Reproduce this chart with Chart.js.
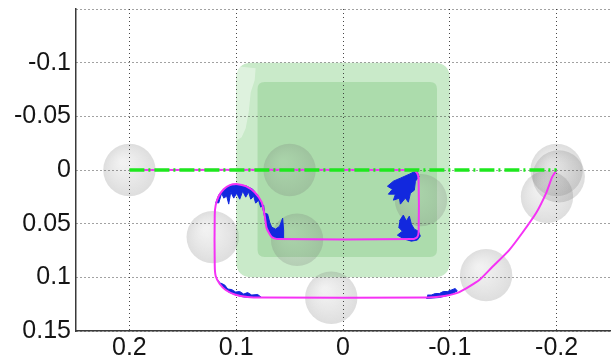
<!DOCTYPE html>
<html>
<head>
<meta charset="utf-8">
<script src="https://cdn.jsdelivr.net/npm/chart.js@4/dist/chart.umd.min.js"></script>
<style>
  html, body { margin: 0; padding: 0; background: #ffffff; }
  canvas { display: block; }
</style>
</head>
<body>
<canvas id="c" width="613" height="362"></canvas>
<script>
// Axis ticks
const xTickValues = [0.2, 0.1, 0, -0.1, -0.2];
const xTickLabels = ['0.2', '0.1', '0', '-0.1', '-0.2'];
const yTickValues = [-0.15, -0.1, -0.05, 0, 0.05, 0.1, 0.15];
const yTickLabels = ['', '-0.1', '-0.05', '0', '0.05', '0.1', '0.15'];

// Reference line (straight run between the two end poses)
const refX = [0.2, -0.2];
const refY = [0, 0];

// Executed trajectory
const pathX = [0.2, -0.0655, -0.0695, -0.0708, -0.0708, -0.0695, -0.0655, 0.0612, 0.0668, 0.0715,
  0.0734, 0.0762, 0.0827, 0.0911, 0.0986, 0.106, 0.1117, 0.1164, 0.1192, 0.1201,
  0.1201, 0.1192, 0.1154, 0.1098, 0.1014, 0.0893, 0.0752, -0.08, -0.0949, -0.1089, -0.1276,
  -0.1397, -0.1556, -0.1678, -0.1808, -0.1902, -0.1958, -0.2];
const pathY = [0, 0, 0.003, 0.009, 0.058, 0.0625, 0.0644, 0.0644, 0.0625, 0.0542,
  0.042, 0.030, 0.0207, 0.0151, 0.0132, 0.0141, 0.0179, 0.0244, 0.0327, 0.042,
  0.0886, 0.0988, 0.1062, 0.1118, 0.1160, 0.1183, 0.1188, 0.1188, 0.1174, 0.1137, 0.1025,
  0.0904, 0.0746, 0.0587, 0.0401, 0.0215, 0.0067, 0];

// Sampled corrections around the tight corners (outlines of each cluster)
const burstA = [[0.1192,0.0309],[0.1164,0.0234],[0.1117,0.0179],[0.1051,0.0146],[0.0986,0.0137],[0.0911,0.0146],
  [0.0846,0.0179],[0.0799,0.0234],[0.0762,0.0309],[0.0743,0.0393],[0.0724,0.0486],[0.0706,0.056],[0.0668,0.0616],
  [0.0621,0.0639],[0.0556,0.0639],[0.0556,0.056],[0.0565,0.0448],[0.0593,0.0523],[0.0631,0.0551],[0.0668,0.0532],
  [0.0687,0.0486],[0.0706,0.0411],[0.0734,0.0402],[0.0743,0.0328],[0.0771,0.0346],[0.079,0.0281],[0.0818,0.0309],
  [0.0836,0.0244],[0.0864,0.0272],[0.0883,0.0206],[0.0911,0.0253],[0.0939,0.0197],[0.0967,0.0272],[0.0995,0.0216],
  [0.1023,0.0262],[0.1051,0.0206],[0.107,0.0318],[0.1089,0.0244],[0.1117,0.0262],[0.1136,0.0216],[0.1164,0.0309]];
const burstB = [[-0.0696,0.0002],[-0.0621,0.0039],[-0.0537,0.0076],[-0.0472,0.0104],[-0.0416,0.0151],[-0.0463,0.0179],
  [-0.0425,0.0225],[-0.0491,0.0225],[-0.0472,0.0281],[-0.0528,0.0262],[-0.0537,0.0318],[-0.0584,0.0262],
  [-0.0612,0.03],[-0.0631,0.0216],[-0.0668,0.0188],[-0.0678,0.0104],[-0.0715,0.0058]];
const burstC = [[-0.0528,0.0476],[-0.0565,0.042],[-0.0593,0.0476],[-0.0621,0.043],[-0.064,0.0504],[-0.0668,0.0551],
  [-0.0706,0.057],[-0.0724,0.0616],[-0.0696,0.0653],[-0.064,0.0663],[-0.0575,0.0644],[-0.0509,0.0607],
  [-0.0556,0.057],[-0.0519,0.0532]];
const burstD = [[0.1173,0.1025],[0.1126,0.109],[0.107,0.1137],[0.1005,0.1165],[0.093,0.1183],[0.0855,0.1188],
  [0.0762,0.1188],[0.0799,0.116],[0.0855,0.1165],[0.0893,0.1142],[0.093,0.1156],[0.0967,0.1132],[0.1005,0.1137],
  [0.1042,0.1114],[0.1079,0.1109],[0.1107,0.1072],[0.1145,0.1053]];
const burstE = [[-0.078,0.1197],[-0.0902,0.1188],[-0.0995,0.1165],[-0.107,0.1128],[-0.1051,0.1104],[-0.1014,0.1118],
  [-0.0977,0.1132],[-0.0939,0.1132],[-0.0902,0.1151],[-0.0864,0.1151],[-0.0827,0.1165],[-0.079,0.1165]];

// Obstacle region (outer margin and inner core) plus a thinner patch on its left flank
const outerZoneX = [0.1, -0.1];
const outerZoneY = [-0.1, 0.1];
const innerZoneX = [0.08, -0.088];
const innerZoneY = [-0.082, 0.081];
const thinPatch = [[0.0995,-0.0966],[0.0818,-0.0947],[0.0827,-0.0836],[0.0864,-0.0724],[0.0883,-0.0538],
  [0.0911,-0.0389],[0.0949,-0.0304],[0.0995,-0.0277]];

// Spherical obstacles: centres and radius
const sphereX = [0.2, 0.05, 0.122, 0.043, 0.011, -0.073, -0.134, -0.2, -0.202, -0.191];
const sphereY = [0, 0, 0.0625, 0.065, 0.119, 0.028, 0.098, 0.0, 0.006, 0.025];
const sphereR = 0.0245;

const toPoints = (xs, ys) => xs.map((v, i) => ({ x: v, y: ys[i] }));
const pairPoints = (arr) => arr.map(p => ({ x: p[0], y: p[1] }));

function roundedRect(ctx, x, y, w, h, r) {
  ctx.beginPath();
  ctx.moveTo(x + r, y);
  ctx.lineTo(x + w - r, y);
  ctx.quadraticCurveTo(x + w, y, x + w, y + r);
  ctx.lineTo(x + w, y + h - r);
  ctx.quadraticCurveTo(x + w, y + h, x + w - r, y + h);
  ctx.lineTo(x + r, y + h);
  ctx.quadraticCurveTo(x, y + h, x, y + h - r);
  ctx.lineTo(x, y + r);
  ctx.quadraticCurveTo(x, y, x + r, y);
  ctx.closePath();
}

// Draws the obstacle region and spheres underneath the grid and the trajectories
const scenePlugin = {
  id: 'scene',
  beforeDraw(chart) {
    const { ctx, chartArea, scales } = chart;
    const sx = scales.x, sy = scales.y;
    ctx.save();
    ctx.beginPath();
    ctx.rect(chartArea.left, chartArea.top, chartArea.width, chartArea.height);
    ctx.clip();

    const zone = (xs, ys, r, color) => {
      const x0 = sx.getPixelForValue(xs[0]), x1 = sx.getPixelForValue(xs[1]);
      const y0 = sy.getPixelForValue(ys[0]), y1 = sy.getPixelForValue(ys[1]);
      roundedRect(ctx, Math.min(x0, x1), Math.min(y0, y1), Math.abs(x1 - x0), Math.abs(y1 - y0), r);
      ctx.fillStyle = color;
      ctx.fill();
    };
    zone(outerZoneX, outerZoneY, 16, 'rgb(201,234,201)');

    ctx.beginPath();
    thinPatch.forEach((p, i) => {
      const px = sx.getPixelForValue(p[0]), py = sy.getPixelForValue(p[1]);
      if (i === 0) ctx.moveTo(px, py); else ctx.lineTo(px, py);
    });
    ctx.closePath();
    ctx.fillStyle = 'rgba(255,255,255,0.4)';
    ctx.fill();

    zone(innerZoneX, innerZoneY, 7, 'rgb(172,220,172)');

    sphereX.forEach((cx, i) => {
      const px = sx.getPixelForValue(cx);
      const py = sy.getPixelForValue(sphereY[i]);
      const r = Math.abs(sx.getPixelForValue(cx + sphereR) - px);
      const g = ctx.createRadialGradient(px - r * 0.25, py - r * 0.3, r * 0.1, px, py, r);
      g.addColorStop(0, 'rgba(150,150,150,0.13)');
      g.addColorStop(1, 'rgba(115,115,115,0.24)');
      ctx.beginPath();
      ctx.arc(px, py, r, 0, Math.PI * 2);
      ctx.fillStyle = g;
      ctx.fill();
    });
    ctx.restore();
  }
};

const blueStyle = {
  showLine: true,
  fill: 'shape',
  backgroundColor: 'rgb(18,40,222)',
  borderColor: 'rgb(18,40,222)',
  borderWidth: 1,
  pointRadius: 0,
  tension: 0,
  order: 3
};

const gridStyle = {
  display: true,
  color: 'rgba(50,50,50,0.9)',
  lineWidth: 1,
  drawTicks: false,
  tickLength: 0
};

const tickFont = { family: '"Liberation Sans", Arial, sans-serif', size: 25 };

new Chart(document.getElementById('c'), {
  type: 'scatter',
  data: {
    datasets: [
      { ...blueStyle, data: pairPoints(burstA) },
      { ...blueStyle, data: pairPoints(burstB) },
      { ...blueStyle, data: pairPoints(burstC) },
      { ...blueStyle, data: pairPoints(burstD) },
      { ...blueStyle, data: pairPoints(burstE) },
      {
        data: toPoints(pathX, pathY),
        showLine: true,
        borderColor: 'rgb(245,50,245)',
        borderWidth: 2,
        pointRadius: 0,
        tension: 0.2,
        fill: false,
        order: 2
      },
      {
        data: toPoints(refX, refY),
        showLine: true,
        borderColor: 'rgb(30,232,30)',
        borderWidth: 3.5,
        borderDash: [15, 4, 2, 4],
        pointRadius: 0,
        fill: false,
        order: 1
      }
    ]
  },
  options: {
    responsive: false,
    animation: false,
    events: [],
    layout: { padding: { left: 0, top: 9, right: 3, bottom: 0 } },
    plugins: {
      legend: { display: false },
      tooltip: { enabled: false }
    },
    scales: {
      x: {
        type: 'linear',
        min: -0.25,
        max: 0.25,
        reverse: true,
        afterBuildTicks: (axis) => { axis.ticks = xTickValues.map(v => ({ value: v })); },
        afterFit: (axis) => { axis.height = 31; axis.paddingLeft = 0; axis.paddingRight = 0; },
        grid: gridStyle,
        border: { display: true, color: '#3a3a3a', width: 1.5, dash: [1, 3] },
        ticks: {
          padding: 2,
          color: '#151515',
          font: tickFont,
          maxRotation: 0,
          autoSkip: false,
          callback: (value, index) => xTickLabels[index]
        }
      },
      y: {
        type: 'linear',
        min: -0.15,
        max: 0.15,
        reverse: true,
        afterBuildTicks: (axis) => { axis.ticks = yTickValues.map(v => ({ value: v })); },
        afterFit: (axis) => { axis.width = 76; axis.paddingTop = 0; axis.paddingBottom = 0; },
        grid: gridStyle,
        border: { display: true, color: '#3a3a3a', width: 1.5, dash: [1, 3] },
        ticks: {
          padding: 5,
          color: '#151515',
          font: tickFont,
          autoSkip: false,
          callback: (value, index) => yTickLabels[index]
        }
      }
    }
  },
  plugins: [scenePlugin]
});
</script>
</body>
</html>
